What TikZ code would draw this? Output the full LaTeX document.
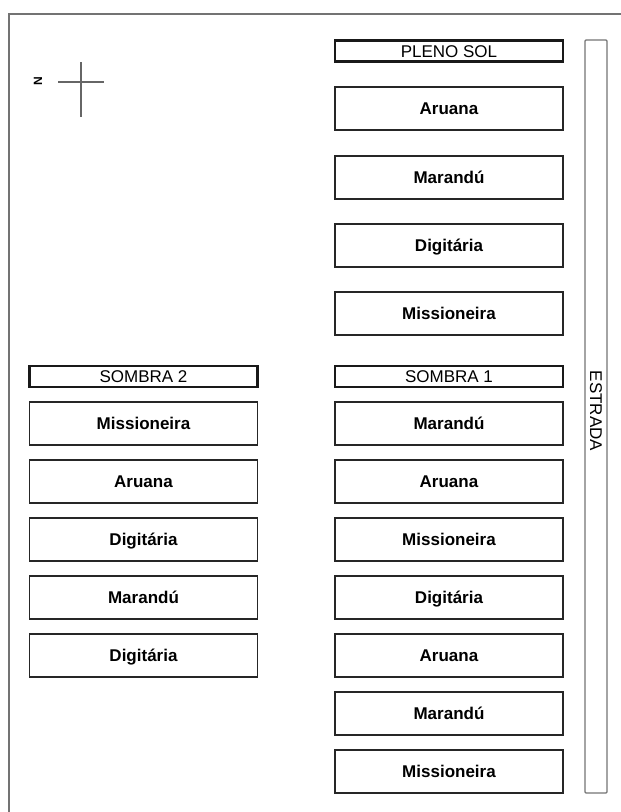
\documentclass[tikz,border=0pt]{standalone}
\usepackage{fontspec}
\setmainfont{Liberation Sans}
\usepackage{tikz}
\usetikzlibrary{positioning, calc}

\begin{document}
\begin{tikzpicture}[x=1pt, y=-1pt,
        bed/.style={rectangle, draw=black!85, line width=1.7pt, minimum width=228pt, minimum height=43pt, inner sep=0pt, text height=12pt, text depth=0pt, font={\fontsize{17}{17}\selectfont\bfseries}},
        header/.style={rectangle, draw=black!90, line width=2.2pt, minimum width=228pt, minimum height=21pt, inner sep=0pt, text height=12pt, text depth=0pt, font={\fontsize{17}{17}\selectfont}},
        road/.style={rectangle, draw=black!55, line width=1.3pt, rounded corners=1pt, minimum width=22pt, minimum height=753pt, inner sep=0pt},
        frame/.style={draw=black!55, line width=1.8pt},
        cross/.style={draw=black!60, line width=1.1pt}
    ]
        \useasboundingbox (0,0) rectangle (621,812);

        % Frame
        \draw [frame] (9,812) -- (9,14) -- (621,14);

        % North mark
        \node (north) [rotate=90, font={\fontsize{12}{12}\selectfont\bfseries}, inner sep=0pt] at (38,81) {N};
        \coordinate (cw) at (58,82);
        \coordinate (ce) at (104,82);
        \coordinate (cn) at (81,62);
        \coordinate (cs) at (81,117);
        \draw [cross] (cw) -- (ce);
        \draw [cross] (cn) -- (cs);

        % Road
        \node (estrada) [road] at (596,416.5) {};
        \node (estrada_txt) [rotate=-90, font={\fontsize{17}{17}\selectfont}, inner sep=0pt] at (596,411) {ESTRADA};

        % Pleno sol (right, top)
        \node (pleno) [header] at (449,51) {PLENO SOL};
        \node (p1) [bed] at (449,108.5) {Aruana};
        \node (p2) [bed] at (449,177.5) {Marandú};
        \node (p3) [bed] at (449,245.5) {Digitária};
        \node (p4) [bed] at (449,313.5) {Missioneira};

        % Sombra 1 (right, bottom)
        \node (sombra1) [header] at (449,376.5) {SOMBRA 1};
        \node (s1a) [bed] at (449,423.5) {Marandú};
        \node (s1b) [bed] at (449,481.5) {Aruana};
        \node (s1c) [bed] at (449,539.5) {Missioneira};
        \node (s1d) [bed] at (449,597.5) {Digitária};
        \node (s1e) [bed] at (449,655.5) {Aruana};
        \node (s1f) [bed] at (449,713.5) {Marandú};
        \node (s1g) [bed] at (449,771.5) {Missioneira};

        % Sombra 2 (left)
        \node (sombra2) [header] at (143.5,376.5) {SOMBRA 2};
        \node (s2a) [bed] at (143.5,423.5) {Missioneira};
        \node (s2b) [bed] at (143.5,481.5) {Aruana};
        \node (s2c) [bed] at (143.5,539.5) {Digitária};
        \node (s2d) [bed] at (143.5,597.5) {Marandú};
        \node (s2e) [bed] at (143.5,655.5) {Digitária};
    \end{tikzpicture}
\end{document}
